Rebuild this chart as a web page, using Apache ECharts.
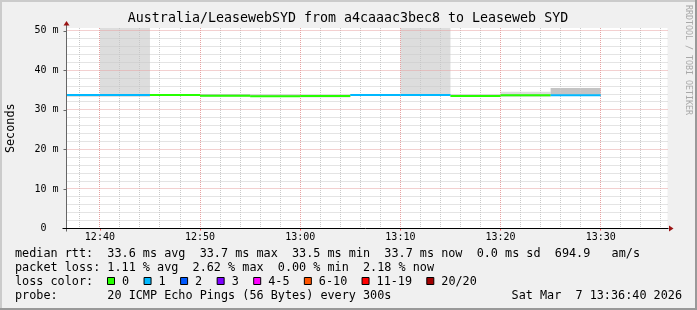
<!DOCTYPE html>
<html><head><meta charset="utf-8">
<script src="https://cdn.jsdelivr.net/npm/echarts@6/dist/echarts.min.js"></script>
<style>html,body{margin:0;padding:0;background:#f0f0f0}#c{width:697px;height:310px}</style>
</head><body><div id="c"></div>
<script>
// ---------- data ----------
const chartTitle = 'Australia/LeasewebSYD from a4caaac3bec8 to Leaseweb SYD';
const rangeStart = '12:36:40';
const rangeEnd = '13:36:40';
const stepMinutes = 5;
const intervalStarts = ['12:35','12:40','12:45','12:50','12:55','13:00','13:05','13:10','13:15','13:20','13:25'];
const medianRtt     = [33.75, 33.75, 33.75, 33.55, 33.45, 33.5, 33.75, 33.75, 33.5, 33.7, 33.7];
const lostPings     = [1, 1, 0, 0, 0, 0, 1, 1, 0, 0, 1];
const smokeLow      = [33.4, 33.4, 33.5, 33.4, 33.3, 33.2, 33.5, 33.5, 33.3, 33.4, 33.5];
const smokeInnerHigh= [34.0, 34.0, 34.0, 34.0, 33.9, 33.8, 34.0, 34.0, 33.9, 34.0, 35.5];
const smokeOuterHigh= [34.0, 60.0, 34.0, 34.0, 33.9, 33.8, 34.0, 60.0, 33.9, 34.6, 35.5];
const timeTicks = ['12:40','12:50','13:00','13:10','13:20','13:30'];
const minorTimeTicks = ['12:38','12:42','12:44','12:46','12:48','12:52','12:54','12:56','12:58',
  '13:02','13:04','13:06','13:08','13:12','13:14','13:16','13:18','13:22','13:24','13:26','13:28',
  '13:32','13:34','13:36'];
const yTicks = [0, 10, 20, 30, 40, 50];
const yMinorTicks = [2,4,6,8,12,14,16,18,22,24,26,28,32,34,36,38,42,44,46,48];
const yMax = 50.7;
const lossLabels = ['0','1','2','3','4-5','6-10','11-19','20/20'];
const lossColors = ['#26ff00','#00b8ff','#0059ff','#7e00ff','#ff00ff','#ff5500','#ff0000','#a10000'];
const lossUpper  = [0, 1, 2, 3, 5, 10, 19, 20];
const statsMedian = 'median rtt:  33.6 ms avg  33.7 ms max  33.5 ms min  33.7 ms now  0.0 ms sd  694.9   am/s';
const statsLoss   = 'packet loss: 1.11 % avg  2.62 % max  0.00 % min  2.18 % now';
const lossHeading = 'loss color:';
const probeText   = 'probe:       20 ICMP Echo Pings (56 Bytes) every 300s';
const stampText   = 'Sat Mar  7 13:36:40 2026';
const creditText  = 'RRDTOOL / TOBI OETIKER';

// ---------- helpers ----------
const MONO = '"DejaVu Sans Mono", "Liberation Mono", monospace';
const ARROW = '#9a1414';
function toMin(s){ const p=s.split(':').map(Number); return p[0]*60+p[1]+(p[2]||0)/60; }
function fmtTime(v){ const h=Math.floor(v/60+1e-6), m=Math.round(v-h*60); return h+':'+String(m).padStart(2,'0'); }
function lossIndex(n){ for(let i=0;i<lossUpper.length;i++){ if(n<=lossUpper[i]) return i; } return lossUpper.length-1; }

const smokeInnerData = intervalStarts.map((t,i)=>[toMin(t), toMin(t)+stepMinutes, smokeLow[i], smokeInnerHigh[i]]);
const smokeOuterData = intervalStarts.map((t,i)=>[toMin(t), toMin(t)+stepMinutes, smokeInnerHigh[i], smokeOuterHigh[i]]);
const medianData = intervalStarts.map((t,i)=>[toMin(t), toMin(t)+stepMinutes, medianRtt[i], lossIndex(lostPings[i])]);

function rectRender(fill){
  return function(params, api){
    const a = api.coord([api.value(0), api.value(3)]);
    const b = api.coord([api.value(1), api.value(2)]);
    const shape = echarts.graphic.clipRectByRect({x:a[0], y:a[1], width:b[0]-a[0], height:b[1]-a[1]}, params.coordSys);
    return shape ? {type:'rect', shape:shape, style:{fill:fill}} : null;
  };
}
function medianRender(params, api){
  const a = api.coord([api.value(0), api.value(2)]);
  const b = api.coord([api.value(1), api.value(2)]);
  const shape = echarts.graphic.clipRectByRect({x:a[0], y:a[1]-1, width:b[0]-a[0], height:2}, params.coordSys);
  return shape ? {type:'rect', shape:shape, style:{fill:lossColors[api.value(3)]}} : null;
}
function vGrid(color){
  return function(params, api){
    const cs = params.coordSys;
    const x = Math.floor(api.coord([api.value(0), 0])[0]) + 0.5;
    return {type:'line', shape:{x1:x, y1:cs.y, x2:x, y2:cs.y+cs.height}, style:{stroke:color, lineWidth:1, lineDash:[1,1]}};
  };
}
function hGrid(color){
  return function(params, api){
    const cs = params.coordSys;
    const y = Math.floor(api.coord([toMin(rangeStart), api.value(0)])[1]) + 0.5;
    return {type:'line', shape:{x1:cs.x, y1:y, x2:cs.x+cs.width, y2:y}, style:{stroke:color, lineWidth:1, lineDash:[1,1]}};
  };
}
function arrowsRender(params, api){
  const cs = params.coordSys;
  const ax = Math.floor(cs.x) + 0.5, ay = Math.floor(cs.y + cs.height) + 0.5;
  const rx = cs.x + cs.width;
  return {type:'group', children:[
    {type:'line', shape:{x1:ax, y1:cs.y-3, x2:ax, y2:ay+3}, style:{stroke:'#666', lineWidth:1}},
    {type:'line', shape:{x1:ax-4, y1:ay, x2:rx+1, y2:ay}, style:{stroke:'#000', lineWidth:1}},
    {type:'polygon', shape:{points:[[ax, cs.y-7], [ax-3, cs.y-2.5], [ax+3, cs.y-2.5]]}, style:{fill:ARROW}},
    {type:'polygon', shape:{points:[[rx+6, ay], [rx+1.5, ay-3], [rx+1.5, ay+3]]}, style:{fill:ARROW}}
  ]};
}

// ---------- legend graphics ----------
const graphics = [];
graphics.push({type:'text', x:348, y:19, style:{text:chartTitle, font:'13.3px '+MONO, fill:'#000', align:'center', verticalAlign:'middle'}});
graphics.push({type:'text', x:688, y:60, rotation:-Math.PI/2, style:{text:creditText, font:'8.3px '+MONO, fill:'#a8a8a8', align:'center', verticalAlign:'middle'}});
const LX = 15, LF = '11.8px '+MONO;
graphics.push({type:'text', x:LX, y:253.5, style:{text:statsMedian, font:LF, fill:'#000', verticalAlign:'middle'}});
graphics.push({type:'text', x:LX, y:267.5, style:{text:statsLoss, font:LF, fill:'#000', verticalAlign:'middle'}});
graphics.push({type:'text', x:LX, y:281.5, style:{text:lossHeading, font:LF, fill:'#000', verticalAlign:'middle'}});
graphics.push({type:'text', x:LX, y:295.5, style:{text:probeText, font:LF, fill:'#000', verticalAlign:'middle'}});
graphics.push({type:'text', x:682, y:295.5, style:{text:stampText, font:LF, fill:'#000', align:'right', verticalAlign:'middle'}});
let sx = 107;
lossLabels.forEach((lab,i)=>{
  graphics.push({type:'rect', shape:{x:sx+0.5, y:277.5, width:7, height:7}, style:{fill:lossColors[i], stroke:'#000', lineWidth:1}});
  graphics.push({type:'text', x:sx+15, y:281.5, style:{text:lab, font:LF, fill:'#000', verticalAlign:'middle'}});
  sx += 15 + lab.length*7.05 + 14.5;
});
// frame
graphics.push({type:'rect', shape:{x:0,y:0,width:697,height:2}, style:{fill:'#cbcbcb'}});
graphics.push({type:'rect', shape:{x:0,y:0,width:2,height:310}, style:{fill:'#cbcbcb'}});
graphics.push({type:'rect', shape:{x:0,y:308,width:697,height:2}, style:{fill:'#999999'}});
graphics.push({type:'rect', shape:{x:695,y:0,width:2,height:310}, style:{fill:'#999999'}});

const chart = echarts.init(document.getElementById('c'), null, {renderer:'canvas'});
chart.setOption({
  animation:false,
  backgroundColor:'#f0f0f0',
  grid:{left:66.5, right:29.5, top:28, bottom:81.5, show:true, backgroundColor:'#ffffff', borderWidth:0,
        containLabel:false, outerBoundsMode:'none'},
  xAxis:{
    type:'value', min:toMin(rangeStart), max:toMin(rangeEnd),
    axisLine:{show:false},
    axisTick:{show:true, customValues:timeTicks.map(toMin), length:2, lineStyle:{color:'#ff5656'}},
    axisLabel:{customValues:timeTicks.map(toMin), formatter:fmtTime, fontFamily:MONO, fontSize:10, color:'#000', margin:4},
    splitLine:{show:false}
  },
  yAxis:{
    type:'value', min:0, max:yMax,
    name:'Seconds', nameLocation:'middle', nameGap:50, nameRotate:90,
    nameTextStyle:{fontFamily:MONO, fontSize:11.8, color:'#000'},
    axisLine:{show:false},
    axisTick:{show:true, customValues:yTicks, length:3, lineStyle:{color:'#666'}},
    axisLabel:{customValues:yTicks, formatter:v=> v===0 ? '0  ' : v+' m', fontFamily:MONO, fontSize:10, color:'#000', margin:8},
    splitLine:{show:false}
  },
  graphic:graphics,
  series:[
    {type:'custom', name:'smokeOuter', data:smokeOuterData, renderItem:rectRender('#dddddd'), z:1, silent:true},
    {type:'custom', name:'smokeInner', data:smokeInnerData, renderItem:rectRender('#c4c4c4'), z:1, silent:true},
    {type:'custom', name:'minorV', data:minorTimeTicks.map(t=>[toMin(t)]), renderItem:vGrid('#c8c8c8'), z:2, silent:true},
    {type:'custom', name:'minorH', data:yMinorTicks.map(v=>[v]), renderItem:hGrid('#c8c8c8'), z:2, silent:true},
    {type:'custom', name:'majorV', data:timeTicks.map(t=>[toMin(t)]), renderItem:vGrid('#e6a0a0'), z:2, silent:true},
    {type:'custom', name:'majorH', data:yTicks.filter(v=>v>0).map(v=>[v]), renderItem:hGrid('#e6a0a0'), z:2, silent:true},
    {type:'custom', name:'median', data:medianData, renderItem:medianRender, z:3, silent:true},
    {type:'custom', name:'axes', data:[[toMin(rangeStart), 0]], renderItem:arrowsRender, z:4, silent:true}
  ]
});
</script></body></html>
